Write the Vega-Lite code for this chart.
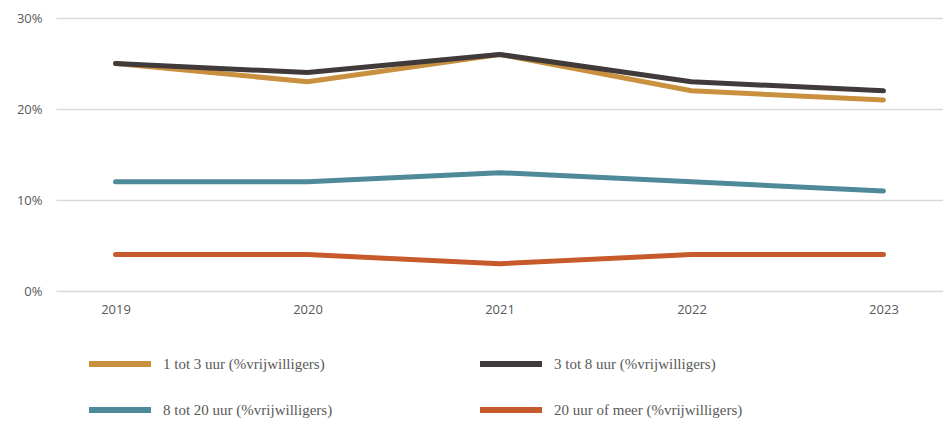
{
  "$schema": "https://vega.github.io/schema/vega-lite/v6.json",
  "width": 887,
  "height": 273,
  "autosize": "none",
  "padding": {"left": 56, "top": 18, "right": 0, "bottom": 132},
  "background": "white",
  "config": {"view": {"stroke": null}},
  "data": {"values": [
    {"jaar": "2019", "reeks": "1 tot 3 uur (%vrijwilligers)", "waarde": 0.25},
    {"jaar": "2020", "reeks": "1 tot 3 uur (%vrijwilligers)", "waarde": 0.23},
    {"jaar": "2021", "reeks": "1 tot 3 uur (%vrijwilligers)", "waarde": 0.26},
    {"jaar": "2022", "reeks": "1 tot 3 uur (%vrijwilligers)", "waarde": 0.22},
    {"jaar": "2023", "reeks": "1 tot 3 uur (%vrijwilligers)", "waarde": 0.21},
    {"jaar": "2019", "reeks": "3 tot 8 uur (%vrijwilligers)", "waarde": 0.25},
    {"jaar": "2020", "reeks": "3 tot 8 uur (%vrijwilligers)", "waarde": 0.24},
    {"jaar": "2021", "reeks": "3 tot 8 uur (%vrijwilligers)", "waarde": 0.26},
    {"jaar": "2022", "reeks": "3 tot 8 uur (%vrijwilligers)", "waarde": 0.23},
    {"jaar": "2023", "reeks": "3 tot 8 uur (%vrijwilligers)", "waarde": 0.22},
    {"jaar": "2019", "reeks": "8 tot 20 uur (%vrijwilligers)", "waarde": 0.12},
    {"jaar": "2020", "reeks": "8 tot 20 uur (%vrijwilligers)", "waarde": 0.12},
    {"jaar": "2021", "reeks": "8 tot 20 uur (%vrijwilligers)", "waarde": 0.13},
    {"jaar": "2022", "reeks": "8 tot 20 uur (%vrijwilligers)", "waarde": 0.12},
    {"jaar": "2023", "reeks": "8 tot 20 uur (%vrijwilligers)", "waarde": 0.11},
    {"jaar": "2019", "reeks": "20 uur of meer (%vrijwilligers)", "waarde": 0.04},
    {"jaar": "2020", "reeks": "20 uur of meer (%vrijwilligers)", "waarde": 0.04},
    {"jaar": "2021", "reeks": "20 uur of meer (%vrijwilligers)", "waarde": 0.03},
    {"jaar": "2022", "reeks": "20 uur of meer (%vrijwilligers)", "waarde": 0.04},
    {"jaar": "2023", "reeks": "20 uur of meer (%vrijwilligers)", "waarde": 0.04}
  ]},
  "mark": {"type": "line", "strokeWidth": 5, "strokeCap": "round", "strokeJoin": "round"},
  "encoding": {
    "x": {
      "field": "jaar", "type": "ordinal",
      "scale": {"type": "point", "padding": 0.31},
      "axis": {"title": null, "domain": false, "ticks": false, "labelAngle": 0, "labelPadding": 12,
               "labelFont": "Open Sans", "labelFontSize": 13, "labelColor": "#595959"}
    },
    "y": {
      "field": "waarde", "type": "quantitative",
      "scale": {"domain": [0, 0.3], "nice": false},
      "axis": {"title": null, "domain": false, "ticks": false, "values": [0, 0.1, 0.2, 0.3], "format": ".0%",
               "labelPadding": 14, "labelFont": "Open Sans", "labelFontSize": 13, "labelColor": "#595959",
               "gridColor": "#d9d9d9", "gridWidth": 1.5}
    },
    "color": {
      "field": "reeks", "type": "nominal",
      "sort": ["1 tot 3 uur (%vrijwilligers)", "3 tot 8 uur (%vrijwilligers)", "8 tot 20 uur (%vrijwilligers)", "20 uur of meer (%vrijwilligers)"],
      "scale": {"range": ["#C8903F", "#403A3A", "#4E8A9A", "#C65A2A"]},
      "legend": {
        "title": null, "orient": "none", "legendX": 30, "legendY": 312,
        "direction": "horizontal", "columns": 2, "columnPadding": 135, "rowPadding": -4,
        "symbolType": "stroke", "symbolSize": 3844, "symbolStrokeWidth": 6,
        "labelFont": "Liberation Serif", "labelFontSize": 15, "labelColor": "#595959", "labelOffset": 9,
        "labelLimit": 400
      }
    }
  }
}
